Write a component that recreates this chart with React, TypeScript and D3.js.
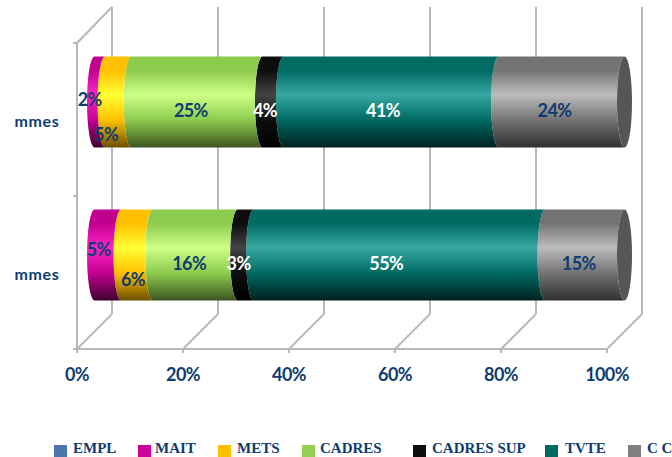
import React from "react";
import * as d3 from "d3";

const categories = ["top", "bottom"];
const categoryLabels = ["mmes", "mmes"];
const seriesNames = ["MAIT", "METS", "CADRES", "CADRES SUP", "TVTE", "C C"];
const topValues = [2, 5, 25, 4, 41, 24];
const bottomValues = [5, 6, 16, 3, 55, 15];
const xTicks = [0, 0.2, 0.4, 0.6, 0.8, 1];

const legendNames = ["EMPL", "MAIT", "METS", "CADRES", "CADRES SUP", "TVTE", "C C"];
const legendColors = ["#4a76ad", "#cc0099", "#ffc000", "#92d050", "#0d0d0d", "#006a63", "#808080"];
const legendSwatchX = [54, 138, 218, 302, 413, 545, 628];
const legendTextX = [73, 155, 237, 320, 432, 565, 647];

// colour stops of the lit cylinder: upper edge, highlight, lower edge
const ramps = [
  ["#c2008f", "#ff25c8", "#3f002f"],
  ["#ffc000", "#ffff33", "#6e5000"],
  ["#8ccb4e", "#ceff85", "#3c5420"],
  ["#0d0d0d", "#444444", "#000000"],
  ["#006a63", "#37a8a2", "#00211f"],
  ["#737373", "#bdbdbd", "#303030"],
];
const labelColors = ["#0e3c70", "#0e3c70", "#0e3c70", "#ffffff", "#ffffff", "#0e3c70"];

// hand-placed label offsets from each segment's centre
const labelNudge = [
  [[-10, -12], [-12, 23], [-6, -1], [-8, -1], [-8, -1], [-7, -1]],
  [[-9, -15], [-4, 15], [-6, -1], [-7, -1], [-13, -1], [-6, -1]],
];

const depthX = 35;
const depthY = 35;
const floorY = 349;
const wallBottom = floorY - depthY;
const wallTop = 7;
const axisTop = 43;
const rx = 7.5;
const grid = "#b8b8b8";
const navy = "#0e3c70";

const x = d3.scaleLinear().domain([0, 1]).range([77, 607]);
const y = d3.scaleBand().domain(categories).range([axisTop, floorY]);
const barHeight = y.bandwidth() * 0.595;

const rows = [
  Object.fromEntries(seriesNames.map((s, i) => [s, topValues[i]])),
  Object.fromEntries(seriesNames.map((s, i) => [s, bottomValues[i]])),
];
const stacked = d3.stack().keys(seriesNames).offset(d3.stackOffsetExpand)(rows as any);

// one slice of the cylinder: both vertical edges bow to the left
function slicePath(x0: number, x1: number, y0: number, y1: number) {
  const ry = (y1 - y0) / 2;
  return `M${x0},${y0}L${x1},${y0}A${rx},${ry} 0 0 0 ${x1},${y1}L${x0},${y1}A${rx},${ry} 0 0 1 ${x0},${y0}Z`;
}

export default function App() {
  const labelFont = "Lato, Carlito, sans-serif";
  return (
    <svg
      width={672}
      height={457}
      style={{ position: "absolute", left: 0, top: 0, background: "#fff" }}
    >
      <defs>
        {ramps.map((r, i) => (
          <linearGradient key={i} id={`ramp${i}`} x1="0" y1="0" x2="0" y2="1">
            <stop offset="0" stopColor={r[0]} />
            <stop offset="0.15" stopColor={r[0]} />
            <stop offset="0.42" stopColor={r[1]} />
            <stop offset="0.7" stopColor={r[0]} />
            <stop offset="1" stopColor={r[2]} />
          </linearGradient>
        ))}
      </defs>

      {/* back wall and floor */}
      <g stroke={grid} strokeWidth={2} fill="none">
        {xTicks.map((t) => (
          <g key={t}>
            <line x1={x(t) + depthX} x2={x(t) + depthX} y1={wallTop} y2={wallBottom} />
            <line x1={x(t)} y1={floorY} x2={x(t) + depthX} y2={wallBottom} />
            <line x1={x(t)} x2={x(t)} y1={floorY} y2={floorY + 4} />
          </g>
        ))}
        <line x1={x(0)} x2={x(1)} y1={floorY} y2={floorY} />
        <line x1={x(0)} x2={x(0)} y1={axisTop} y2={floorY} />
        <line x1={x(0)} y1={axisTop} x2={x(0) + depthX} y2={wallTop} />
        {[axisTop, axisTop + y.step(), floorY].map((v) => (
          <line key={v} x1={x(0) - 4} x2={x(0)} y1={v} y2={v} />
        ))}
      </g>

      {/* cylinders, drawn right to left so each slice's bulge sits on its neighbour */}
      {categories.map((c, row) => {
        const mid = (y(c) as number) + y.bandwidth() / 2 - depthY / 2;
        const y0 = mid - barHeight / 2;
        const y1 = mid + barHeight / 2;
        const shift = depthX / 2;
        return (
          <g key={c}>
            {stacked
              .map((s, i) => ({ s, i }))
              .reverse()
              .map(({ s, i }) => (
                <path
                  key={s.key}
                  d={slicePath(x(s[row][0]) + shift, x(s[row][1]) + shift, y0, y1)}
                  fill={`url(#ramp${i})`}
                />
              ))}
            <ellipse cx={x(1) + shift} cy={mid} rx={rx} ry={barHeight / 2} fill="#565656" />
          </g>
        );
      })}

      {/* value labels */}
      {categories.map((c, row) => {
        const mid = (y(c) as number) + y.bandwidth() / 2 - depthY / 2;
        const values = row === 0 ? topValues : bottomValues;
        return stacked.map((s, i) => (
          <text
            key={`${c}-${s.key}`}
            x={(x(s[row][0]) + x(s[row][1])) / 2 + depthX / 2 + labelNudge[row][i][0]}
            y={mid + 10 + labelNudge[row][i][1]}
            dy="0.35em"
            textAnchor="middle"
            fontFamily={labelFont}
            fontWeight={700}
            fontSize={18}
            letterSpacing={-0.6}
            fill={labelColors[i]}
          >
            {values[i]}%
          </text>
        ));
      })}

      {/* category labels */}
      {categories.map((c, row) => (
        <text
          key={c}
          x={37}
          y={(y(c) as number) + y.bandwidth() / 2 + 2}
          dy="0.35em"
          textAnchor="middle"
          fontFamily={labelFont}
          fontWeight={700}
          fontSize={16}
          letterSpacing={0.6}
          fill={navy}
        >
          {categoryLabels[row]}
        </text>
      ))}

      {/* value axis labels */}
      {xTicks.map((t) => (
        <text
          key={t}
          x={x(t)}
          y={375}
          dy="0.35em"
          textAnchor="middle"
          fontFamily={labelFont}
          fontWeight={700}
          fontSize={18}
          letterSpacing={-0.6}
          fill={navy}
        >
          {d3.format(".0%")(t)}
        </text>
      ))}

      {/* legend */}
      {legendNames.map((name, i) => (
        <g key={name}>
          <rect x={legendSwatchX[i]} y={445} width={13} height={12} fill={legendColors[i]} />
          <text
            x={legendTextX[i]}
            y={453}
            fontFamily="'Liberation Serif', serif"
            fontWeight={700}
            fontSize={15}
            fill={navy}
          >
            {name}
          </text>
        </g>
      ))}
    </svg>
  );
}
